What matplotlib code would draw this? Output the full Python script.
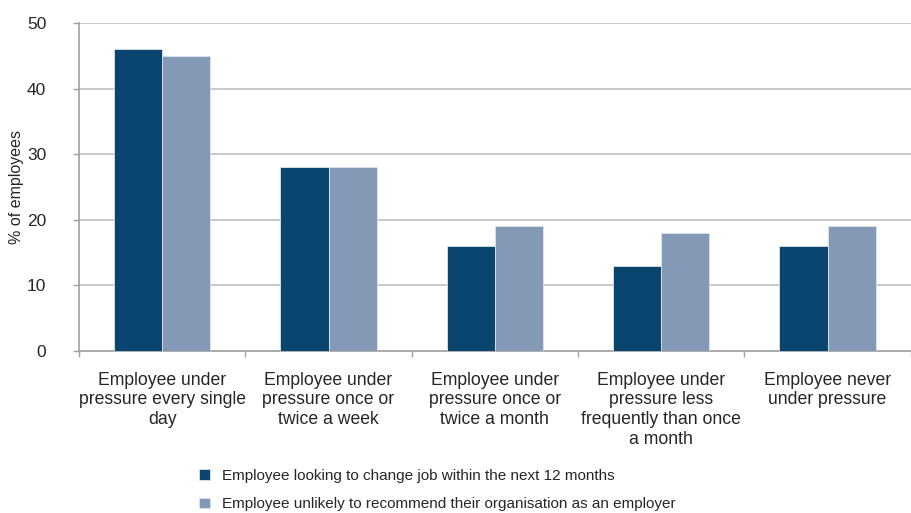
import numpy as np
import matplotlib.pyplot as plt

plt.rcParams['font.family'] = ['Liberation Sans', 'DejaVu Sans']

categories = [
    "Employee under\npressure every single\nday",
    "Employee under\npressure once or\ntwice a week",
    "Employee under\npressure once or\ntwice a month",
    "Employee under\npressure less\nfrequently than once\na month",
    "Employee never\nunder pressure",
]
change_job = [46, 28, 16, 13, 16]
not_recommend = [45, 28, 19, 18, 19]
series_names = [
    "Employee looking to change job within the next 12 months",
    "Employee unlikely to recommend their organisation as an employer",
]

dark = "#0A4570"
light = "#8399B6"
grid_col = "#C0C0C0"
text_col = "#262626"

fig = plt.figure(figsize=(9.12, 5.13), dpi=100)
ax = fig.add_axes([0.0866, 0.316, 0.912, 0.639])

x = np.arange(len(categories))
w = 0.29
ax.bar(x - w / 2, change_job, w, color=dark, edgecolor="#DDE3EA", linewidth=0.6,
       label=series_names[0], zorder=3)
ax.bar(x + w / 2, not_recommend, w, color=light, edgecolor="#DDE3EA", linewidth=0.6,
       label=series_names[1], zorder=3)

ax.set_xlim(-0.5, len(categories) - 0.5)
ax.set_ylim(0, 50)
ax.set_yticks(range(0, 51, 10))
ax.yaxis.grid(True, color=grid_col, linewidth=1.2, zorder=0)
ax.set_axisbelow(True)

# category labels centered, tick marks on group boundaries
ax.set_xticks(x)
ax.set_xticklabels(categories, fontsize=12.7, color=text_col, linespacing=1.2)
ax.tick_params(axis="x", length=0, pad=15)
ax.set_xticks(np.arange(-0.5, len(categories)), minor=True)
ax.tick_params(axis="x", which="minor", length=4.5, color="#A0A0A0", width=1)
ax.tick_params(axis="y", length=4.5, color="#A0A0A0", width=1, labelsize=12.5,
               labelcolor=text_col, pad=19)

for s in ["top", "right"]:
    ax.spines[s].set_visible(False)
for s in ["left", "bottom"]:
    ax.spines[s].set_color("#A0A0A0")
    ax.spines[s].set_linewidth(1.2)

ax.set_ylabel("% of employees", fontsize=11.5, color=text_col)
ax.yaxis.set_label_coords(-0.066, 0.5)

ax.legend(loc="upper left", bbox_to_anchor=(0.128, -0.318), frameon=False,
          fontsize=11, handlelength=0.7, handleheight=0.7, handletextpad=0.8,
          labelspacing=0.95, labelcolor=text_col)

fig.savefig("out.png", dpi=100)
